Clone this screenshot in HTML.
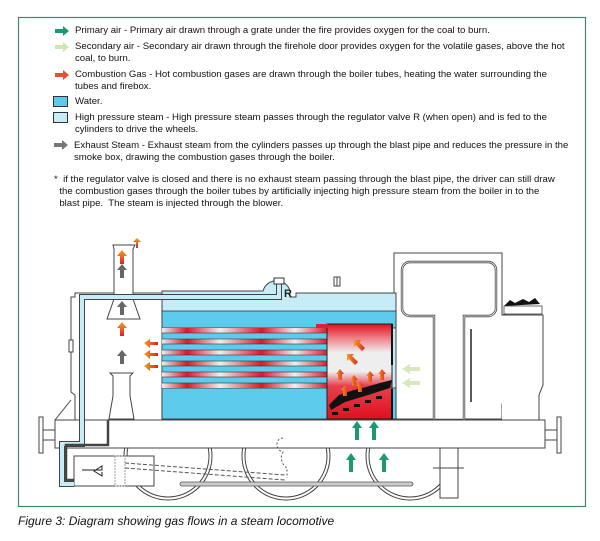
<!DOCTYPE html>
<html><head><meta charset="utf-8"><style>
html,body{margin:0;padding:0;background:#fff;}
body{width:600px;height:541px;position:relative;overflow:hidden;font-family:"Liberation Sans",Arial,sans-serif;}
.t{position:absolute;font-size:9.6px;line-height:12px;color:#111;}
.cap{position:absolute;left:18px;top:514px;font-size:12px;font-style:italic;color:#111;}
</style></head><body>
<svg width="600" height="541" style="position:absolute;left:0;top:0">
<defs>
<linearGradient id="fb" gradientUnits="userSpaceOnUse" x1="0" y1="324" x2="0" y2="419">
<stop offset="0" stop-color="#e0101e"/><stop offset="0.15" stop-color="#f08088"/><stop offset="0.3" stop-color="#eee"/><stop offset="0.5" stop-color="#eee"/><stop offset="0.65" stop-color="#e84050"/><stop offset="1" stop-color="#e0101e"/></linearGradient>
<linearGradient id="tb" gradientUnits="userSpaceOnUse" x1="162" y1="0" x2="328" y2="0">
<stop offset="0" stop-color="#eee"/><stop offset="0.15" stop-color="#d81a28"/><stop offset="0.35" stop-color="#eee"/><stop offset="0.6" stop-color="#d81a28"/><stop offset="0.8" stop-color="#eee"/><stop offset="1" stop-color="#d81a28"/></linearGradient>
<linearGradient id="fa" x1="0" y1="1" x2="0" y2="0"><stop offset="0" stop-color="#e02020"/><stop offset="1" stop-color="#f5a020"/></linearGradient>
<linearGradient id="fh" x1="1" y1="0" x2="0" y2="0"><stop offset="0" stop-color="#e02020"/><stop offset="1" stop-color="#f5a020"/></linearGradient>
</defs>
<rect x="18.5" y="17.5" width="567" height="489" fill="none" stroke="#3d8a6a" stroke-width="1.2"/>
<path d="M55 29h8v-3l6 5-6 5v-3h-8z" fill="#1a9a70"/>
<path d="M55 45h8v-3l6 5-6 5v-3h-8z" fill="#cfe6b0"/>
<path d="M55 73h8v-3l6 5-6 5v-3h-8z" fill="#e65030"/>
<rect x="53.5" y="96.5" width="14" height="10" fill="#5ccbec" stroke="#333"/>
<rect x="53.5" y="112.5" width="14" height="10" fill="#c6ecf8" stroke="#333"/>
<path d="M54 143h8v-3l6 5-6 5v-3h-8z" fill="#777"/>
<g fill="none" stroke="#444" stroke-width="1">
<circle cx="168" cy="456" r="44"/><circle cx="168" cy="456" r="41"/>
<circle cx="286" cy="456" r="44"/><circle cx="286" cy="456" r="41"/>
<circle cx="410" cy="456" r="44"/><circle cx="410" cy="456" r="41"/>
</g>
<rect x="180" y="482" width="233" height="4" rx="2" fill="#ccc" stroke="#555" stroke-width="0.8"/>
<rect x="440" y="448" width="18" height="50" fill="#fff" stroke="#444"/>
<line x1="433" y1="468" x2="464" y2="468" stroke="#444"/>
<path d="M394 253h108v62l4-1v82l-4 8v15H394z" fill="#fff" stroke="#444"/>
<path d="M502 315h41v70l-4 10v25h-37" fill="#fff" stroke="#444"/>
<rect x="504" y="306" width="38" height="8" fill="#fff" stroke="#444" stroke-width="0.8"/>
<path d="M504 306l6-6 5 3 8-4 6 3 6-4 5 6z" fill="#111"/>
<path d="M410 262h78a8 8 0 0 1 8 8v38a8 8 0 0 1-8 8h-24v104h-30V316h-24a8 8 0 0 1-8-8v-38a8 8 0 0 1 8-8z" fill="#fff" stroke="#444" stroke-width="2.4"/>
<path d="M410 262h78a8 8 0 0 1 8 8v38a8 8 0 0 1-8 8h-24v104h-30V316h-24a8 8 0 0 1-8-8v-38a8 8 0 0 1 8-8z" fill="none" stroke="#fff" stroke-width="0.8"/>
<line x1="471" y1="329" x2="471" y2="402" stroke="#222" stroke-width="1.5"/>
<path d="M75 293h88v127H75v-25l-4-3V297h4z" fill="#fff" stroke="#444"/>
<rect x="69" y="340" width="4" height="12" fill="#fff" stroke="#444"/>
<line x1="55" y1="420" x2="71" y2="400" stroke="#444"/>
<path d="M162 291h101a14 14 0 0 1 27-0v6h6v-4h100v126H162z" fill="#c6ecf8" stroke="#444"/>
<rect x="162" y="311" width="234" height="17" fill="#5ccbec" stroke="#333" stroke-width="0.8"/>
<rect x="162" y="388" width="234" height="31" fill="#5ccbec" stroke="#333" stroke-width="0.8"/>
<rect x="162" y="328" width="166" height="60" fill="url(#tb)"/>
<g fill="#5ccbec" stroke="#333" stroke-width="0.6">
<rect x="162" y="333" width="166" height="6"/><rect x="162" y="344" width="166" height="6"/><rect x="162" y="355" width="166" height="6"/><rect x="162" y="366" width="166" height="6"/><rect x="162" y="377" width="166" height="6"/>
</g>
<rect x="327" y="324" width="65" height="95" fill="url(#fb)" stroke="#222"/>
<rect x="316" y="324" width="12" height="4" fill="#e02030"/>
<line x1="392" y1="324" x2="392" y2="365" stroke="#111" stroke-width="2"/>
<line x1="392" y1="389" x2="392" y2="419" stroke="#111" stroke-width="2"/>
<path d="M329 405l10-10 15-5 12-3 14-4 12-3 -2 8-25 8-20 6-14 8z" fill="#111"/>
<g fill="#111"><rect x="332" y="412" width="6" height="3"/><rect x="343" y="408" width="6" height="3"/><rect x="354" y="404" width="6" height="3"/><rect x="365" y="400" width="6" height="3"/><rect x="376" y="396" width="6" height="3"/></g>
<rect x="334" y="277" width="3" height="9" fill="#fff" stroke="#444"/><rect x="337" y="277" width="3" height="9" fill="#fff" stroke="#444"/>
<rect x="55" y="420" width="490" height="28" fill="#fff" stroke="#444"/>
<rect x="39" y="417" width="4" height="36" fill="#fff" stroke="#444"/><rect x="43" y="430" width="12" height="10" fill="#fff" stroke="#444"/>
<rect x="557" y="417" width="4" height="36" fill="#fff" stroke="#444"/><rect x="545" y="430" width="12" height="10" fill="#fff" stroke="#444"/>
<path d="M113 245h22l-2 4v50l7 20h-33l7-20v-50z" fill="#fff" stroke="#444"/>
<path d="M110 373h23l-3 3v20l4 23h-25l4-23v-20z" fill="#fff" stroke="#444"/>
<rect x="74" y="456" width="80" height="30" fill="#fff" stroke="#444"/>
<rect x="115" y="456" width="10" height="30" fill="none" stroke="#999" stroke-dasharray="2 1"/>
<path d="M125 463L285 475M125 468L285 480" stroke="#555" stroke-dasharray="4 2" fill="none"/>
<path d="M283 438c-8 0-8 12 0 14c-4 6 0 14 4 16v10" stroke="#555" stroke-dasharray="2 2" fill="none"/>
<path d="M82 470h20v-4l-8 5 8 5v-4" fill="none" stroke="#222"/>
<path d="M279 281v16H82v147h-20v40h12" fill="none" stroke="#444" stroke-width="6"/>
<path d="M279 281v16H82v147h-20v40h12" fill="none" stroke="#c6ecf8" stroke-width="4"/>
<path d="M108 420v25H66v35h8" fill="none" stroke="#444" stroke-width="2.5"/>
<rect x="274" y="278" width="10" height="6" fill="#fff" stroke="#333"/>
<text x="284" y="297" font-family="Liberation Sans" font-weight="bold" font-size="11" fill="#222">R</text>
<g>
<path d="M120 278v-8h-3l5-6 5 6h-3v8z" fill="#666"/>
<path d="M120 264v-8h-3l5-6 5 6h-3v8z" fill="url(#fa)"/>
<path d="M120 315v-8h-3l5-6 5 6h-3v8z" fill="#666"/>
<path d="M120 336v-8h-3l5-6 5 6h-3v8z" fill="url(#fa)"/>
<path d="M120 364v-8h-3l5-6 5 6h-3v8z" fill="#666"/>
<path d="M136 248v-6h-3l4-4 4 4h-3v6z" fill="url(#fa)"/>
</g>
<g fill="url(#fh)">
<path d="M158 342h-8v-3l-6 4 6 5v-3h8z"/><path d="M158 353h-8v-3l-6 4 6 5v-3h8z"/><path d="M158 365h-8v-3l-6 4 6 5v-3h8z"/>
<path d="M365 348l-6-6 2-2h-7v7l2-2 6 6z"/><path d="M358 362l-6-6 2-2h-7v7l2-2 6 6z"/>
<path d="M338 380v-6h-2l4-5 4 5h-2v6z"/><path d="M352 386v-6h-2l4-5 4 5h-2v6z"/><path d="M368 382v-6h-2l4-5 4 5h-2v6z"/><path d="M380 380v-6h-2l4-5 4 5h-2v6z"/><path d="M343 396v-6h-2l4-5 4 5h-2v6z"/><path d="M358 392v-6h-2l4-5 4 5h-2v6z"/>
</g>
<g fill="#d6e8bc"><path d="M420 367h-10v-3l-8 5 8 5v-3h10z"/><path d="M420 381h-10v-3l-8 5 8 5v-3h10z"/></g>
<g fill="#1a9a70">
<path d="M355 440v-12h-3l5-7 5 7h-3v12z"/><path d="M372 440v-12h-3l5-7 5 7h-3v12z"/>
<path d="M349 472v-12h-3l5-7 5 7h-3v12z"/><path d="M382 472v-12h-3l5-7 5 7h-3v12z"/>
</g>
</svg>
<div class="t" style="left:75px;top:25px">Primary air - Primary air drawn through a grate under the fire provides oxygen for the coal to burn.</div>
<div class="t" style="left:75px;top:41px;width:490px">Secondary air - Secondary air drawn through the firehole door provides oxygen for the volatile gases, above the hot coal, to burn.</div>
<div class="t" style="left:75px;top:69px;width:490px">Combustion Gas - Hot combustion gases are drawn through the boiler tubes, heating the water surrounding the tubes and firebox.</div>
<div class="t" style="left:75px;top:96px">Water.</div>
<div class="t" style="left:75px;top:112px;width:490px">High pressure steam - High pressure steam passes through the regulator valve R (when open) and is fed to the cylinders to drive the wheels.</div>
<div class="t" style="left:74px;top:140px;width:495px">Exhaust Steam - Exhaust steam from the cylinders passes up through the blast pipe and reduces the pressure in the smoke box, drawing the combustion gases through the boiler.</div>
<div class="t" style="left:54px;top:174px;width:515px">* &nbsp;if the regulator valve is closed and there is no exhaust steam passing through the blast pipe, the driver can still draw<br>&nbsp;&nbsp;the combustion gases through the boiler tubes by artificially injecting high pressure steam from the boiler in to the<br>&nbsp;&nbsp;blast pipe.&nbsp; The steam is injected through the blower.</div>
<div class="cap">Figure 3: Diagram showing gas flows in a steam locomotive</div>
</body></html>
